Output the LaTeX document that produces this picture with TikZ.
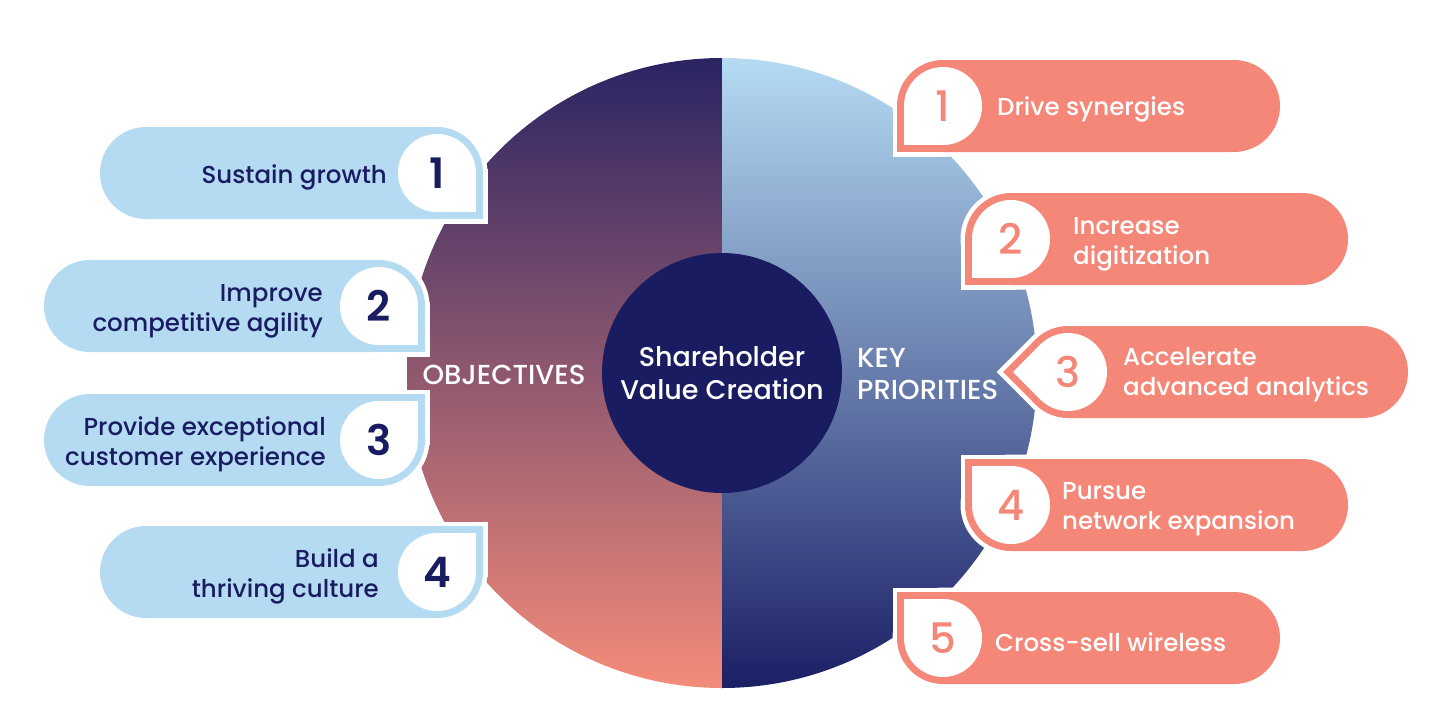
\documentclass[tikz,border=0pt]{standalone}
\usepackage{fontspec}
\IfFontExistsTF{Poppins Medium}
  {\setmainfont{Poppins Medium}}
  {\setmainfont{Poppins}[FakeBold=0.6]}
\IfFontExistsTF{Poppins SemiBold}
  {\newfontfamily\heavyfont{Poppins SemiBold}}
  {\newfontfamily\heavyfont{Poppins}[FakeBold=1.5]}
\definecolor{navy}{HTML}{1A1C62}
\definecolor{plum}{HTML}{2A2463}
\definecolor{peach}{HTML}{F48C7A}
\definecolor{paleb}{HTML}{B5DBF3}
\definecolor{deepb}{HTML}{1B1F66}
\definecolor{skyb}{HTML}{B5DBF3}
\definecolor{salmon}{HTML}{F48778}
\tikzset{
  rim/.style   = {draw=white, line width=9pt},
  lbl/.style   = {font=\fontsize{24.5}{30}\selectfont, inner sep=0pt},
  numL/.style  = {font=\heavyfont\fontsize{42}{42}\selectfont, text=navy, inner sep=0pt},
  numR/.style  = {font=\fontsize{42}{42}\selectfont, text=salmon, inner sep=0pt},
  hub/.style   = {font=\fontsize{27}{33}\selectfont, text=white, align=center, inner sep=0pt},
  caps/.style  = {font=\fontsize{27.5}{32}\selectfont, text=white, inner sep=0pt}
}
% square corner of a badge, #1 = style, #2 = centre, #3/#4 = size
\newcommand\tabcorner[4]{\path[#1] (#2) rectangle ++(#3,#4);}

\begin{document}
\begin{tikzpicture}[x=1pt, y=-1pt]
\useasboundingbox (0,0) rectangle (1442,715);
\coordinate (O) at (722,373);

% the two halves
\begin{scope}
  \clip (0,0) rectangle (722,715);
  \shade[top color=plum, bottom color=peach] (O) circle (315pt);
\end{scope}
\begin{scope}
  \clip (722,0) rectangle (1442,715);
  \shade[top color=paleb, bottom color=deepb] (O) circle (315pt);
\end{scope}
\fill[navy] (O) circle (120pt);

\node[hub] (hub) at (722,373) {Shareholder\\Value Creation};
\node[caps] (obj) at (504,375) {OBJECTIVES};
\node[caps, align=left, anchor=west] (key) at (857,374) {KEY\\PRIORITIES};

% objectives
\foreach \xa/\xb/\cy/\sy/\n in {100/483/173/1/1, 44/425/306/1/2, 44/425/440/-1/3, 100/483/572/-1/4}{
  \pgfmathsetmacro\cx{\xb-46}
  \draw[rim, rounded corners=46pt] (\xa,\cy-46) rectangle (\xb,\cy+46);
  \tabcorner{rim}{\cx,\cy}{46}{46*\sy}
  \fill[skyb, rounded corners=46pt] (\xa,\cy-46) rectangle (\xb,\cy+46);
  \tabcorner{fill=skyb}{\cx,\cy}{46}{46*\sy}
  \fill[white] (\cx,\cy) circle (39pt);
  \tabcorner{fill=white}{\cx,\cy}{39}{39*\sy}
  \node[numL] (o\n) at (\cx,\cy) {\n};
}
\node[lbl, text=navy, anchor=east] (t1) at (387,177) {Sustain growth};
\node[lbl, text=navy, anchor=east, align=right] (t2) at (323,311) {Improve\\competitive agility};
\node[lbl, text=navy, anchor=east, align=right] (t3) at (326,444) {Provide exceptional\\customer experience};
\node[lbl, text=navy, anchor=east, align=right] (t4) at (379,576) {Build a\\thriving culture};

% key priorities
\foreach \xa/\xb/\cy/\sy/\n in {897/1280/106/1/1, 965/1348/239/1/2, 965/1348/505/-1/4, 897/1280/638/-1/5}{
  \pgfmathsetmacro\cx{\xa+46}
  \draw[rim, rounded corners=46pt] (\xa,\cy-46) rectangle (\xb,\cy+46);
  \tabcorner{rim}{\cx,\cy}{-46}{46*\sy}
  \fill[salmon, rounded corners=46pt] (\xa,\cy-46) rectangle (\xb,\cy+46);
  \tabcorner{fill=salmon}{\cx,\cy}{-46}{46*\sy}
  \fill[white] (\cx,\cy) circle (39pt);
  \tabcorner{fill=white}{\cx,\cy}{-39}{39*\sy}
  \node[numR] (k\n) at (\cx,\cy) {\n};
}
% third one points straight at the circle
\draw[rim, rounded corners=46pt] (1022,326) rectangle (1408,418);
\draw[rim] (1068,372) -- (1035.5,339.5) -- (1003,372) -- (1035.5,404.5) -- cycle;
\fill[salmon, rounded corners=46pt] (1022,326) rectangle (1408,418);
\fill[salmon] (1068,372) -- (1035.5,339.5) -- (1003,372) -- (1035.5,404.5) -- cycle;
\fill[white] (1068,372) circle (39pt);
\fill[white] (1068,372) -- (1040.4,344.4) -- (1013,372) -- (1040.4,399.6) -- cycle;
\node[numR] (k3) at (1068,372) {3};

\node[lbl, text=white, anchor=west] (p1) at (997,109) {Drive synergies};
\node[lbl, text=white, anchor=west, align=left] (p2) at (1073,244) {Increase\\digitization};
\node[lbl, text=white, anchor=west, align=left] (p3) at (1123,375) {Accelerate\\advanced analytics};
\node[lbl, text=white, anchor=west, align=left] (p4) at (1062,509) {Pursue\\network expansion};
\node[lbl, text=white, anchor=west] (p5) at (995,642) {Cross-sell wireless};
\end{tikzpicture}
\end{document}
